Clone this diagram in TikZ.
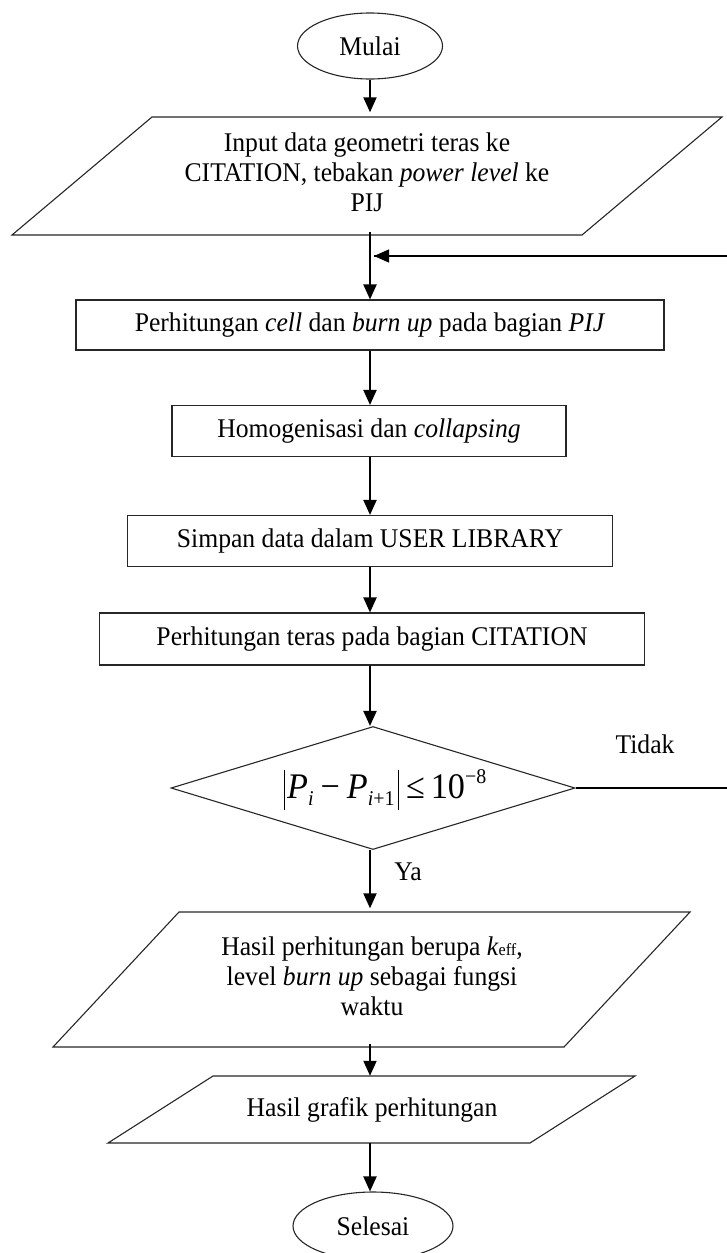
\documentclass[tikz,border=0pt]{standalone}
\usepackage{fontspec}
\setmainfont{Liberation Serif}[FakeStretch=0.95]
\usetikzlibrary{arrows.meta,shapes.geometric}
\begin{document}
\begin{tikzpicture}[x=1pt,y=-1pt,
  font=\fontsize{27}{30}\selectfont,
  outline/.style={draw=black!85, line width=1.1pt},
  boxnode/.style={outline, rectangle, inner sep=0pt, align=center},
  termnode/.style={outline, ellipse, inner sep=0pt},
  txtnode/.style={inner sep=0pt, align=center},
  flow/.style={line width=2pt, -{Triangle[length=15pt,width=13pt]}},
  thin/.style={line width=1.1pt}]
\useasboundingbox (0,0) rectangle (726,1253);
% start
\node[termnode, minimum width=145pt, minimum height=66pt] (start) at (370,46) {Mulai};
% input parallelogram
\node[txtnode, minimum width=430pt, minimum height=119pt] (in1) at (367,172)
  {Input data geometri teras ke\\CITATION, tebakan \textit{power level} ke\\PIJ};
\draw[outline] (152,117) -- (722,117) -- (582,235) -- (12,235) -- cycle;
% boxes
\node[boxnode, minimum width=588pt, minimum height=50pt] (cell) at (370,325)
  {Perhitungan \textit{cell} dan \textit{burn up} pada bagian \textit{PIJ}};
\node[boxnode, minimum width=394pt, minimum height=51pt] (homo) at (369,431)
  {Homogenisasi dan \textit{collapsing}};
\node[boxnode, minimum width=485pt, minimum height=51pt] (simpan) at (370,541)
  {Simpan data dalam USER LIBRARY};
\node[boxnode, minimum width=545pt, minimum height=52pt] (teras) at (372,639)
  {Perhitungan teras pada bagian CITATION};
% decision
\node[diamond, outline, inner sep=0pt, minimum width=404pt, minimum height=123pt, aspect=3.3] (dec) at (373,788) {};
\node[txtnode, anchor=base, font=\fontsize{36}{36}\selectfont] (form) at (385,798)
  {\rule[-12pt]{1.5pt}{40pt}\kern2pt\textit{P}\raisebox{-7pt}{\fontsize{21}{21}\selectfont\textit{i}}\kern7pt−\kern7pt\textit{P}\raisebox{-7pt}{\fontsize{21}{21}\selectfont\textit{i}+1}\kern3pt\rule[-12pt]{1.5pt}{40pt}\kern7pt≤\kern6pt10\raisebox{15pt}{\fontsize{21}{21}\selectfont −8}};
\node[txtnode] (tidak) at (645,744) {Tidak};
\node[txtnode] (ya) at (408,872) {Ya};
% output parallelograms
\node[txtnode, minimum width=380pt, minimum height=135pt] (hasil) at (372,976)
  {Hasil perhitungan berupa \textit{k}{\fontsize{17}{17}\selectfont eff},\\level \textit{burn up} sebagai fungsi\\waktu};
\draw[outline] (179,912) -- (690,912) -- (564,1047) -- (53,1047) -- cycle;
\node[txtnode, minimum width=320pt, minimum height=67pt] (grafik) at (372,1109.5)
  {Hasil grafik perhitungan};
\draw[outline] (213,1076) -- (635,1076) -- (530,1143) -- (108,1143) -- cycle;
% end
\node[termnode, minimum width=160pt, minimum height=68pt] (end) at (373,1226) {Selesai};
% connectors
\draw[flow] (start.south) -- (start.south |- in1.north);
\draw[flow] (start.south |- in1.south) -- (start.south |- cell.north);
\draw[flow] (start.south |- cell.south) -- (start.south |- homo.north);
\draw[flow] (start.south |- homo.south) -- (start.south |- simpan.north);
\draw[flow] (start.south |- simpan.south) -- (start.south |- teras.north);
\draw[flow] (start.south |- teras.south) -- (start.south |- dec.north);
\draw[flow] (start.south |- dec.south) -- (start.south |- hasil.north);
\draw[flow] (start.south |- hasil.south) -- (start.south |- grafik.north);
\draw[flow] (start.south |- grafik.south) -- (start.south |- end.north);
% feedback loop
\coordinate (loopbot) at (730,788);
\coordinate (looptop) at (730,256);
\coordinate (loopend) at (374,256);
\draw[thin] (dec.east) -- (loopbot) -- (looptop) -- (loopend);
\draw[line width=1.1pt, -{Triangle[length=15pt,width=13pt]}] (420,256) -- (loopend);
\end{tikzpicture}
\end{document}
